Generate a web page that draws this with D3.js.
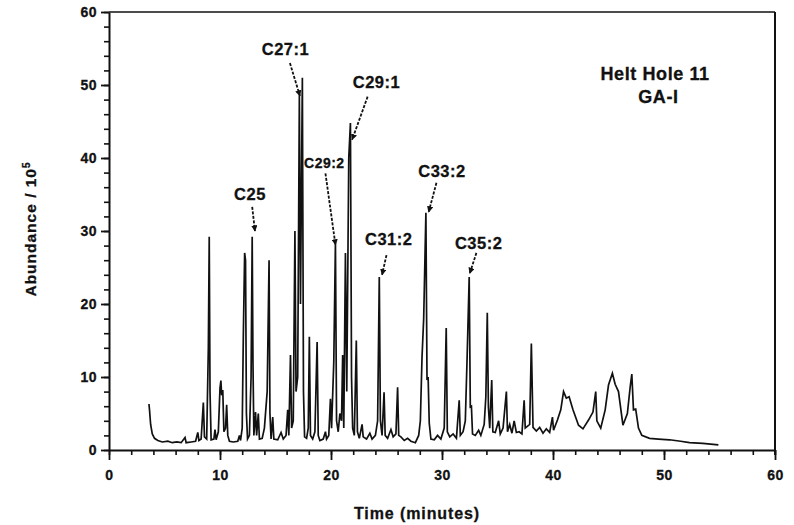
<!DOCTYPE html>
<html>
<head>
<meta charset="utf-8">
<script src="https://cdn.jsdelivr.net/npm/d3@7"></script>
<style>
  html, body { margin: 0; padding: 0; background: #fff; }
  svg { display: block; }
  text { font-family: "Liberation Sans", Arial, Helvetica, sans-serif; font-weight: bold; fill: #111; stroke: #111; stroke-width: 0.3px; }
</style>
</head>
<body>
<svg id="chart" width="794" height="525"></svg>
<script>
// ---- data (time in minutes, abundance in units of 10^5) ----
const times = [
  3.6,3.65,3.75,3.9,4.1,4.4,4.8,5.3,5.7,6.1,6.5,6.85,6.95,7.4,7.8,8.0,8.1,8.3,8.5,8.6,8.8,
  8.95,9.03,9.1,9.2,9.45,9.55,9.65,9.85,10.0,10.08,10.15,10.25,10.35,10.5,10.6,10.7,10.85,
  11.2,11.6,11.75,11.85,12.0,12.1,12.22,12.3,12.38,12.48,12.65,12.8,12.9,12.97,13.05,13.2,
  13.3,13.45,13.55,13.8,14.0,14.25,14.42,14.5,14.6,14.75,14.85,15.2,15.5,15.7,15.95,16.1,
  16.2,16.35,16.45,16.6,16.75,16.85,17.0,17.15,17.25,17.42,17.52,17.62,17.8,17.95,18.05,
  18.15,18.35,18.55,18.75,18.85,19.0,19.3,19.5,19.6,19.8,19.95,20.05,20.25,20.4,20.5,20.65,
  20.8,20.95,21.05,21.15,21.3,21.42,21.6,21.75,21.85,21.95,22.1,22.28,22.38,22.55,22.8,22.9,
  23.2,23.5,23.7,24.0,24.2,24.35,24.45,24.6,24.78,24.88,25.1,25.4,25.6,25.85,26.0,26.1,26.3,
  26.6,26.9,27.2,27.6,27.9,28.05,28.2,28.35,28.55,28.65,28.75,28.85,29.0,29.3,29.6,29.9,
  30.2,30.38,30.48,30.7,31.0,31.3,31.55,31.65,31.9,32.1,32.25,32.45,32.55,32.65,32.75,33.0,
  33.3,33.5,33.8,33.95,34.08,34.18,34.3,34.48,34.58,34.8,35.1,35.25,35.5,35.8,35.9,36.1,
  36.3,36.5,36.7,36.95,37.2,37.4,37.5,37.9,38.05,38.2,38.5,38.8,39.1,39.4,39.7,39.95,40.05,
  40.4,40.7,40.95,41.2,41.45,41.8,42.3,42.7,43.2,43.6,43.85,43.95,44.3,44.7,45.0,45.35,45.6,
  45.9,46.3,46.7,46.95,47.1,47.25,47.45,47.7,48.0,48.7,49.5,50.5,51.5,52.3,53.5,54.9
];
const abundance = [
  6.3,5.5,3.5,2.2,1.6,1.3,1.1,1.2,1.0,1.1,1.0,1.7,1.0,1.1,1.2,2.4,1.3,1.5,6.5,1.8,1.5,
  14,29.2,8,1.4,1.5,2.8,1.4,2.5,8.5,9.5,7.5,8.2,2.5,3,6.2,2,1.2,
  1.1,1.2,2,1.3,3,15.4,27,26,5,1.5,2,10,29.2,12,2,5.2,
  2,5,1.5,1.6,3,8,26,5,1.5,4.5,1.5,1.4,2.4,1.5,2,5.5,
  2,13,3,4,30,8,10,48.6,20,51,8,1.8,1.6,3,15.5,
  2,1.5,2.5,14.8,2,1.3,1.5,2.5,1.5,2,7,3,12,28.5,4,2.5,
  5,4,13,3,27,8,40,44.8,10,3,2,15,2.5,1.6,3.5,1.8,
  1.5,2.3,1.5,2,4,23.7,4,2,7.9,2,1.6,2.8,1.8,2.2,8.6,2,1.8,
  1.3,1.6,1.2,1.0,2,4,12.7,18,32.5,9.6,10,3.7,1.5,1.4,2,1.5,
  3,16.7,2.5,1.8,2.2,1.6,6.8,2,2.5,4,12,23.7,5.9,6,2.2,2,
  2.7,2,3.5,7.3,18.8,5.9,3,9.6,2.5,2.4,4,2.2,3,8,2.5,3.5,
  2.3,4,2.4,2.5,2.2,6.8,3,3.5,14.6,3.1,2.6,3.1,2.3,2.9,2.4,4.5,2.7,
  4.1,5.5,8,7.1,7.3,5.5,3.4,2.9,4.1,5.2,8,4,3,5.5,8.9,10.5,9,
  8,3.4,5,8.6,10.4,5.5,5.6,3,2,1.6,1.5,1.4,1.2,1.0,0.9,0.7
];

// tick values
const xMajorTicks = [0, 10, 20, 30, 40, 50, 60];
const xMinorTicks = d3.range(0, 61, 2);
const yMajorTicks = [0, 10, 20, 30, 40, 50, 60];
const yMinorTicks = d3.range(0, 61, 2);

// peak annotations: label, label anchor (t, v), arrow start (t, v), arrow end (t, v)
const peakNames   = ["C25", "C27:1", "C29:2", "C29:1", "C31:2", "C33:2", "C35:2"];
const labelTimes  = [12.7, 15.9, 19.4, 24.1, 25.2, 30.0, 33.3];
const labelValues = [34.2, 54.1, 38.6, 49.6, 28.1, 37.4, 27.5];
const arrowFromT  = [12.9, 16.3, 19.5, 23.3, 25.0, 29.5, 33.1];
const arrowFromV  = [33.3, 53.0, 37.9, 48.4, 26.7, 36.6, 27.0];
const arrowToT    = [13.15, 17.2, 20.4, 21.9, 24.6, 28.8, 32.5];
const arrowToV    = [30.0, 48.5, 28.1, 42.5, 24.0, 32.6, 24.2];

const sampleLines = ["Helt Hole 11", "GA-I"];
const sampleT = [49.2, 49.5];
const sampleV = [50.7, 47.5];

// ---- drawing ----
const svg = d3.select("#chart");
svg.append("rect").attr("width", 794).attr("height", 525).attr("fill", "#fff");

const x = d3.scaleLinear().domain([0, 60]).range([109, 775]);
const y = d3.scaleLinear().domain([0, 60]).range([450, 12]);

// minor ticks
svg.append("g")
  .attr("transform", `translate(${x(0)},0)`)
  .call(d3.axisLeft(y).tickValues(yMinorTicks).tickSize(5).tickFormat(""))
  .call(g => g.select(".domain").remove())
  .call(g => g.selectAll("line").attr("stroke", "#111").attr("stroke-width", 1.6));
svg.append("g")
  .attr("transform", `translate(0,${y(0)})`)
  .call(d3.axisBottom(x).tickValues(xMinorTicks).tickSize(5).tickFormat(""))
  .call(g => g.select(".domain").remove())
  .call(g => g.selectAll("line").attr("stroke", "#111").attr("stroke-width", 1.6));

// major axes
const yAxis = svg.append("g")
  .attr("transform", `translate(${x(0)},0)`)
  .call(d3.axisLeft(y).tickValues(yMajorTicks).tickSize(8).tickSizeOuter(0).tickPadding(4).tickFormat(d3.format("d")));
const xAxis = svg.append("g")
  .attr("transform", `translate(0,${y(0)})`)
  .call(d3.axisBottom(x).tickValues(xMajorTicks).tickSize(10).tickSizeOuter(0).tickPadding(10).tickFormat(d3.format("d")));

[yAxis, xAxis].forEach(g => {
  g.select(".domain").attr("stroke", "#111").attr("stroke-width", 2);
  g.selectAll(".tick line").attr("stroke", "#111").attr("stroke-width", 1.8);
  g.selectAll(".tick text")
    .attr("fill", "#111")
    .style("font-family", '"Liberation Sans", Arial, sans-serif')
    .style("font-weight", "bold")
    .style("font-size", "14px")
    .style("letter-spacing", "0.5px");
});

// frame: top and right
svg.append("line")
  .attr("x1", x(0)).attr("x2", x(60)).attr("y1", y(60)).attr("y2", y(60))
  .attr("stroke", "#111").attr("stroke-width", 1.6);
svg.append("line")
  .attr("x1", x(60)).attr("x2", x(60)).attr("y1", y(60)).attr("y2", y(0) + 5)
  .attr("stroke", "#111").attr("stroke-width", 2);

// chromatogram trace
const pts = times.map((t, i) => [t, abundance[i]]);
const line = d3.line().x(d => x(d[0])).y(d => y(d[1]));
svg.append("path")
  .datum(pts)
  .attr("d", line)
  .attr("fill", "none")
  .attr("stroke", "#111")
  .attr("stroke-width", 1.7)
  .attr("stroke-linejoin", "miter");

// arrowhead marker
svg.append("defs").append("marker")
  .attr("id", "ah")
  .attr("viewBox", "0 0 10 10")
  .attr("refX", 9).attr("refY", 5)
  .attr("markerWidth", 3.5).attr("markerHeight", 3.5)
  .attr("orient", "auto")
  .append("path").attr("d", "M0,0 L10,5 L0,10 Z").attr("fill", "#111");

// peak labels and arrows
peakNames.forEach((name, i) => {
  svg.append("line")
    .attr("x1", x(arrowFromT[i])).attr("y1", y(arrowFromV[i]))
    .attr("x2", x(arrowToT[i])).attr("y2", y(arrowToV[i]))
    .attr("stroke", "#111").attr("stroke-width", 1.8)
    .attr("stroke-dasharray", "3,1.5")
    .attr("marker-end", "url(#ah)");
  svg.append("text")
    .attr("x", x(labelTimes[i])).attr("y", y(labelValues[i]))
    .attr("text-anchor", "middle")
    .style("font-size", name === "C29:2" ? "14px" : "16.5px")
    .style("letter-spacing", "0.5px")
    .text(name);
});

// sample name
sampleLines.forEach((s, i) => {
  svg.append("text")
    .attr("x", x(sampleT[i])).attr("y", y(sampleV[i]))
    .attr("text-anchor", "middle")
    .style("font-size", "18px")
    .style("letter-spacing", "0.6px")
    .text(s);
});

// axis titles
svg.append("text")
  .attr("x", 417).attr("y", 519)
  .attr("text-anchor", "middle")
  .style("font-size", "16px")
  .style("letter-spacing", "0.9px")
  .text("Time (minutes)");

const yt = svg.append("text")
  .attr("transform", "translate(36,229) rotate(-90)")
  .attr("text-anchor", "middle")
  .style("font-size", "15.5px")
  .style("letter-spacing", "1px");
yt.append("tspan").text("Abundance / 10");
yt.append("tspan").attr("dy", "-6").style("font-size", "10px").text("5");
</script>
</body>
</html>
